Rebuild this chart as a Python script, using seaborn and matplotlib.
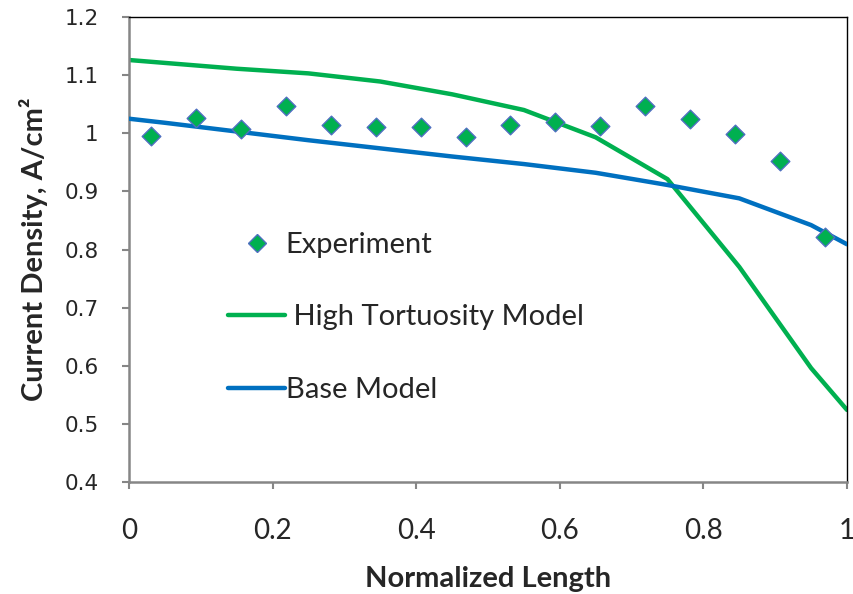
import matplotlib
matplotlib.use("Agg")
import matplotlib.pyplot as plt
import seaborn as sns
import pandas as pd
from matplotlib.lines import Line2D

# Experiment data
exp_x = [0.03125, 0.09375, 0.15625, 0.21875, 0.28125, 0.34375, 0.40625, 0.46875,
         0.53125, 0.59375, 0.65625, 0.71875, 0.78125, 0.84375, 0.90625, 0.96875]
exp_y = [0.995, 1.027, 1.007, 1.047, 1.015, 1.010, 1.010, 0.994,
         1.015, 1.020, 1.013, 1.047, 1.024, 0.998, 0.953, 0.822]

# Model data
model_x = [0.0, 0.05, 0.15, 0.25, 0.35, 0.45, 0.55, 0.65, 0.75, 0.85, 0.95, 1.0]
high_tort_y = [1.126, 1.121, 1.111, 1.103, 1.089, 1.067, 1.040, 0.993, 0.921, 0.770, 0.596, 0.524]
base_y = [1.025, 1.018, 1.003, 0.988, 0.974, 0.960, 0.947, 0.932, 0.911, 0.888, 0.842, 0.809]

x_ticks = [0, 0.2, 0.4, 0.6, 0.8, 1.0]
x_tick_labels = ["0", "0.2", "0.4", "0.6", "0.8", "1"]
y_ticks = [0.4, 0.5, 0.6, 0.7, 0.8, 0.9, 1.0, 1.1, 1.2]
y_tick_labels = ["0.4", "0.5", "0.6", "0.7", "0.8", "0.9", "1", "1.1", "1.2"]

GREEN = "#00B050"
BLUE = "#0070C0"
EDGE = "#4F6FC0"

sns.set_style("white")
plt.rcParams['font.family'] = ['Lato', 'DejaVu Sans']

fig = plt.figure(figsize=(8.54, 5.94), dpi=100)
ax = fig.add_axes([129/854, 112/594, 718/854, 465/594])

df_exp = pd.DataFrame({"x": exp_x, "y": exp_y})
df_ht = pd.DataFrame({"x": model_x, "y": high_tort_y})
df_base = pd.DataFrame({"x": model_x, "y": base_y})

sns.lineplot(data=df_ht, x="x", y="y", ax=ax, color=GREEN, linewidth=3.2,
             sort=False, estimator=None, zorder=2)
sns.lineplot(data=df_base, x="x", y="y", ax=ax, color=BLUE, linewidth=3.2,
             sort=False, estimator=None, zorder=3)
sns.scatterplot(data=df_exp, x="x", y="y", ax=ax, marker="D", s=90,
                color=GREEN, edgecolor=EDGE, linewidth=1.0, zorder=4)

ax.set_xlim(0, 1)
ax.set_ylim(0.4, 1.2)
ax.set_xticks(x_ticks)
ax.set_xticklabels(x_tick_labels, fontsize=20)
ax.set_yticks(y_ticks)
ax.set_yticklabels(y_tick_labels, fontsize=15.5, family=['DejaVu Sans'])

ax.tick_params(axis='x', direction='out', length=5, width=1.5, color='#868686',
               pad=21, bottom=True)
ax.tick_params(axis='y', direction='out', length=5, width=1.5, color='#868686',
               pad=17, left=True)

for s in ['left', 'bottom']:
    ax.spines[s].set_color('#868686')
    ax.spines[s].set_linewidth(1.8)
for s in ['top', 'right']:
    ax.spines[s].set_color('black')
    ax.spines[s].set_linewidth(1.0)
    ax.spines[s].set_visible(True)

ax.set_xlabel("Normalized Length", fontsize=21, fontweight='bold', labelpad=16)
ax.set_ylabel("Current Density, A/cm\u00b2", fontsize=21,
              fontweight='bold', labelpad=12)

handles = [
    Line2D([], [], linestyle='none', marker='D', markersize=9,
           markerfacecolor=GREEN, markeredgecolor=EDGE, markeredgewidth=1.0),
    Line2D([], [], color=GREEN, linewidth=3.2),
    Line2D([], [], color=BLUE, linewidth=3.2),
]
labels = ["Experiment", " High Tortuosity Model", "Base Model"]
ax.legend(handles, labels, loc='upper left', bbox_to_anchor=(0.138, 0.538),
          frameon=False, fontsize=21, handlelength=1.95, handletextpad=0.03,
          labelspacing=1.6, borderpad=0, borderaxespad=0)

fig.savefig("out.png", dpi=100)
